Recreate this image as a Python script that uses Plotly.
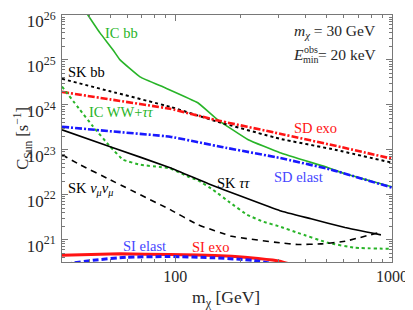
import math
import plotly.graph_objects as go

# ---------------- data ----------------
ic_bb_m = [36.3, 39.5, 44.9, 51.6, 55.6, 68.7, 89.7, 127, 157, 217, 304, 507, 607, 1000]
ic_bb_c = [1.86e26, 1.0e26, 4.0e25, 1.67e25, 1.0e25, 4.19e24, 2.39e24, 1.11e24,
           4.64e23, 1.67e23, 8.58e22, 3.98e22, 2.93e22, 1.5e22]

sk_bb_m = [30, 50, 94.6, 157, 304, 546, 1000]
sk_bb_c = [3.79e24, 2.0e24, 9.03e23, 4.19e23, 1.75e23, 1.0e23, 5.14e22]

sd_exo_m = [30, 50, 94.6, 152, 304, 580, 1000]
sd_exo_c = [1.94e24, 1.32e24, 8.15e23, 4.64e23, 2.27e23, 1.15e23, 6.3e22]

ic_ww_m = [30, 36.3, 41.7, 50, 57.4, 68.7, 84.9, 94.6, 115, 127, 149, 179, 214, 254, 304, 368, 507, 675, 1000]
ic_ww_c = [2.55e24, 7.74e23, 3.3e23, 1.18e23, 6.0e22, 4.64e22, 4.13e22, 3.85e22, 2.5e22, 2.1e22,
           1.29e22, 6.64e21, 3.59e21, 2.51e21, 1.94e21, 1.41e21, 8.45e20, 6.55e20, 6.2e20]

sd_el_m = [30, 50, 94.6, 164, 304, 523, 1000]
sd_el_c = [3.25e23, 2.58e23, 1.95e23, 1.15e23, 6.55e22, 3.6e22, 1.43e22]

sk_tt_m = [30, 51.6, 94.6, 142, 200, 304, 423, 607, 889]
sk_tt_c = [2.78e23, 1.11e23, 3.98e22, 1.75e22, 9.3e21, 4.4e21, 2.9e21, 1.85e21, 1.27e21]

sk_nn_m = [30, 36.3, 50, 94.6, 127, 182, 304, 368, 470, 607, 861]
sk_nn_c = [7.74e22, 4.64e22, 2.15e22, 4.64e21, 2.15e21, 1.18e21, 8.45e20, 7.74e20, 8.0e20, 9.16e20, 1.41e21]

si_exo_m = [30, 55.6, 94.6, 127, 182, 241, 304, 331]
si_exo_c = [4.48e20, 4.81e20, 4.64e20, 4.55e20, 4.26e20, 3.78e20, 3.3e20, 2.93e20]

si_el_m = [31.3, 32.7, 41.7, 59.9, 94.6, 152, 226, 279]
si_el_c = [2.78e20, 2.93e20, 3.47e20, 4.04e20, 4.19e20, 3.92e20, 3.47e20, 2.93e20]

x_tick_vals = [100, 1000]
x_tick_text = ["100", "1000"]
y_tick_vals = [1e21, 1e22, 1e23, 1e24, 1e25, 1e26]
y_tick_text = ["10<sup>21</sup>", "10<sup>22</sup>", "10<sup>23</sup>",
               "10<sup>24</sup>", "10<sup>25</sup>", "10<sup>26</sup>"]

# ---------------- styling ----------------
GREEN = "rgb(40,180,40)"
RED = "rgb(255,20,20)"
BLUE = "rgb(25,25,255)"
BLACK = "black"
TXT = "rgb(40,40,40)"
FONT = "Liberation Serif, Times New Roman, DejaVu Serif, serif"
FRAME = "rgb(120,120,120)"

fig = go.Figure()


def add(m, c, color, width, dash):
    fig.add_trace(go.Scatter(x=m, y=c, mode="lines", showlegend=False, hoverinfo="skip",
                             line=dict(color=color, width=width, dash=dash,
                                       shape="spline", smoothing=0.3)))


add(ic_bb_m, ic_bb_c, GREEN, 1.6, "solid")
add(sk_bb_m, sk_bb_c, BLACK, 2, "dot")
add(sd_exo_m, sd_exo_c, RED, 2.6, "7px,2px,2px,2px")
add(ic_ww_m, ic_ww_c, GREEN, 2, "dot")
add(sk_tt_m, sk_tt_c, BLACK, 1.6, "solid")
add(sk_nn_m, sk_nn_c, BLACK, 1.6, "6px,5px")
add(sd_el_m, sd_el_c, BLUE, 2.6, "7px,2px,2px,2px")
add(si_exo_m, si_exo_c, RED, 3, "solid")
add(si_el_m, si_el_c, BLUE, 3, "6px,3px")

# invisible trace to carry the mirrored top/right axes
fig.add_trace(go.Scatter(x=[100], y=[1e23], xaxis="x2", yaxis="y2", mode="markers",
                         marker=dict(opacity=0), showlegend=False, hoverinfo="skip"))

# minor tick positions
x_minor = [40.0, 50.0, 60.0, 70.0, 80.0, 90.0, 200.0, 300.0, 400.0, 500.0, 600.0, 700.0, 800.0, 900.0]
y_minor = [float(k) * 10.0 ** e for e in range(20, 26) for k in range(2, 10)]

XR = [math.log10(30), 3]
YR = [20.5, 26]

base = dict(type="log", showgrid=False, zeroline=False, showline=True,
            linecolor=FRAME, linewidth=1, automargin=False, ticklabeloverflow="allow",
            ticks="inside", ticklen=6, tickcolor=FRAME, tickwidth=1)
xminor = dict(tickvals=x_minor, ticks="inside", ticklen=3, tickcolor=FRAME, showgrid=False)
yminor = dict(tickvals=y_minor, ticks="inside", ticklen=3, tickcolor=FRAME, showgrid=False)

# The page body adds an 8px offset, so the figure is 8px smaller than the window.
fig.update_layout(
    template="none",
    width=405, height=302,
    margin=dict(l=54, r=21, t=7, b=47.5, pad=0),
    plot_bgcolor="white", paper_bgcolor="white", showlegend=False,
    xaxis=dict(**base, range=XR, tickvals=x_tick_vals, ticktext=x_tick_text, minor=xminor,
               tickfont=dict(family=FONT, size=16, color=TXT)),
    yaxis=dict(**base, range=YR, tickvals=y_tick_vals, ticktext=y_tick_text, minor=yminor,
               ticklabelshift=6, ticklabelstandoff=2,
               tickfont=dict(family=FONT, size=17, color=TXT)),
    xaxis2=dict(**base, range=XR, tickvals=x_tick_vals, showticklabels=False, minor=xminor,
                overlaying="x", side="top", anchor="y2"),
    yaxis2=dict(**base, range=YR, tickvals=y_tick_vals, showticklabels=False, minor=yminor,
                overlaying="y", side="right", anchor="x2"),
)

# plot area in window pixels: x 62..392, y 15..262.5
L, R, T, B = 62, 392, 15, 262.5


def px(x):
    return (x - L) / (R - L)


def py(y):
    return 1 - (y - T) / (B - T)


def label(text, x, y, color, size=14.5, anchor="left", angle=0):
    fig.add_annotation(text=text, x=px(x), y=py(y), xref="paper", yref="paper",
                       xanchor=anchor, yanchor="middle", showarrow=False, textangle=angle,
                       font=dict(family=FONT, size=size, color=color))


NB = "\u00a0"
label("IC bb", 103, 33, GREEN)
label("SK bb", 66, 72, BLACK)
label("IC WW+<i>ττ</i>", 87, 112, GREEN)
label("SD exo", 292, 128, RED)
label("SD elast", 272, 177, "rgb(70,70,255)")
label("SK <i>ττ</i>", 215, 183, BLACK)
label("SK <i>ν<sub>μ</sub>ν<sub>μ</sub></i>", 66, 189, BLACK)
label("SI elast", 121, 246, "rgb(70,70,255)")
label("SI exo", 190, 247, RED)
label("<i>m<sub>χ</sub></i>" + NB + "=" + NB + "30 GeV", 292, 32, TXT, size=15.5)
label("<i>E</i>", 291, 55, TXT, size=15.5)
label("obs", 302, 50, TXT, size=10)
label("min", 301, 60, TXT, size=10)
label("=" + NB + "20 keV", 316, 55, TXT, size=15.5)

# axis titles
label("m<sub>χ</sub> [GeV]", 226, 299, TXT, size=17.5, anchor="center")
label("C<sub>Sun</sub> [s<sup>−1</sup>]", 22, 139, TXT, size=16.5, anchor="center", angle=-90)

fig.write_html("out.html")
